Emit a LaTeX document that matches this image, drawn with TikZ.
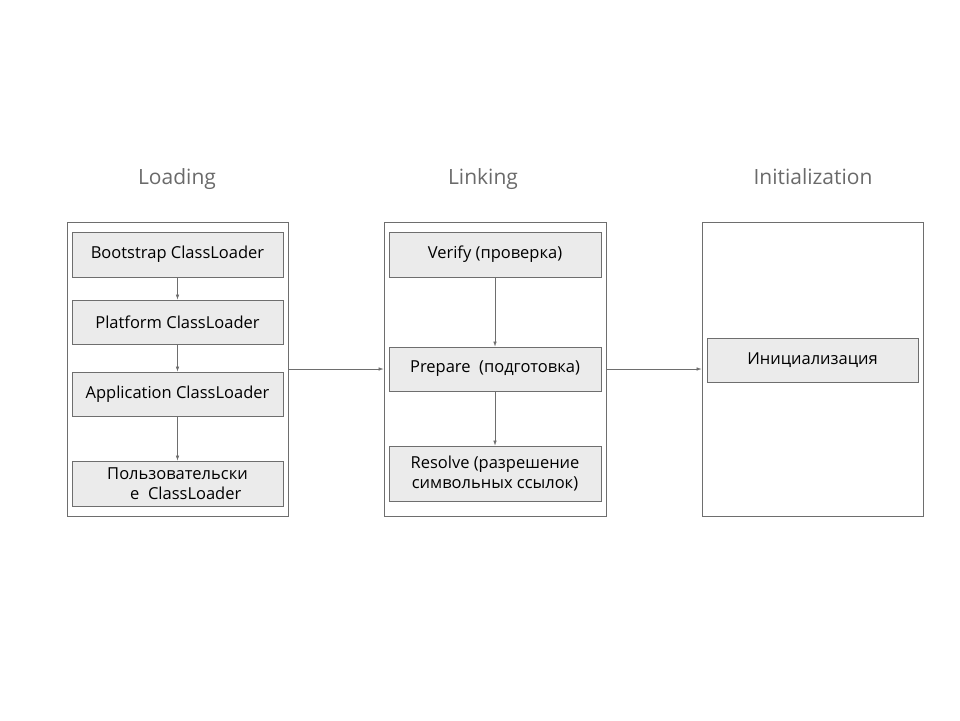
\documentclass[tikz,border=0pt]{standalone}
\usepackage{fontspec}
\setmainfont{Open Sans}
\usepackage{tikz}
\usetikzlibrary{arrows.meta,positioning}
\definecolor{framegray}{HTML}{6E6E6E}
\definecolor{boxfill}{HTML}{EBEBEB}
\definecolor{titlegray}{HTML}{6A6A6A}
\tikzset{
  stage/.style={draw=framegray,line width=0.8pt,minimum height=294pt},
  stepbox/.style={draw=framegray,fill=boxfill,line width=0.8pt,minimum width=211pt,
    minimum height=44pt,inner sep=1pt,align=center,font=\fontsize{16.5}{20}\selectfont},
  title/.style={text=titlegray,anchor=base,font=\fontsize{21}{24}\selectfont},
  flow/.style={-{Latex[length=5pt,width=3.5pt]},draw=framegray,line width=0.6pt}
}
\begin{document}
\begin{tikzpicture}[x=1pt,y=-1pt]
    \useasboundingbox (0,0) rectangle (960,720);
    % stage frames
    \node[stage,minimum width=221pt] (loading) at (177.5,369) {};
    \node[stage,minimum width=222pt] (linking) at (495,369) {};
    \node[stage,minimum width=221pt] (init) at (812.5,369) {};
    \node[title] (loadingT) at (177,184) {Loading};
    \node[title] (linkingT) at (483,184) {Linking};
    \node[title] (initT) at (813,184) {Initialization};
    % loading
    \node[stepbox,minimum height=45pt] (boot) at (177.5,254.5) {Bootstrap ClassLoader};
    \node[stepbox] (platform) at (177.5,322) {Platform ClassLoader};
    \node[stepbox] (app) at (177.5,394) {Application ClassLoader};
    \node[stepbox,minimum height=45pt] (user) at (177.5,483.5) {Пользовательски\\\quad е\ \ ClassLoader};
    % linking
    \node[stepbox,minimum width=212pt,minimum height=45pt] (verify) at (495,254.5) {Verify (проверка)};
    \node[stepbox,minimum width=212pt] (prepare) at (495,369) {Prepare\ \ (подготовка)};
    \node[stepbox,minimum width=212pt,minimum height=55pt] (resolve) at (495,473.5) {Resolve (разрешение\\символьных ссылок)};
    % initialization
    \node[stepbox] (initbox) at (812.5,360) {Инициализация};
    \draw[flow] (boot) -- (platform);
    \draw[flow] (platform) -- (app);
    \draw[flow] (app) -- (user);
    \draw[flow] (verify) -- (prepare);
    \draw[flow] (prepare) -- (resolve);
    \draw[flow] (loading) -- (linking);
    \draw[flow] (linking) -- (init);
\end{tikzpicture}
\end{document}
